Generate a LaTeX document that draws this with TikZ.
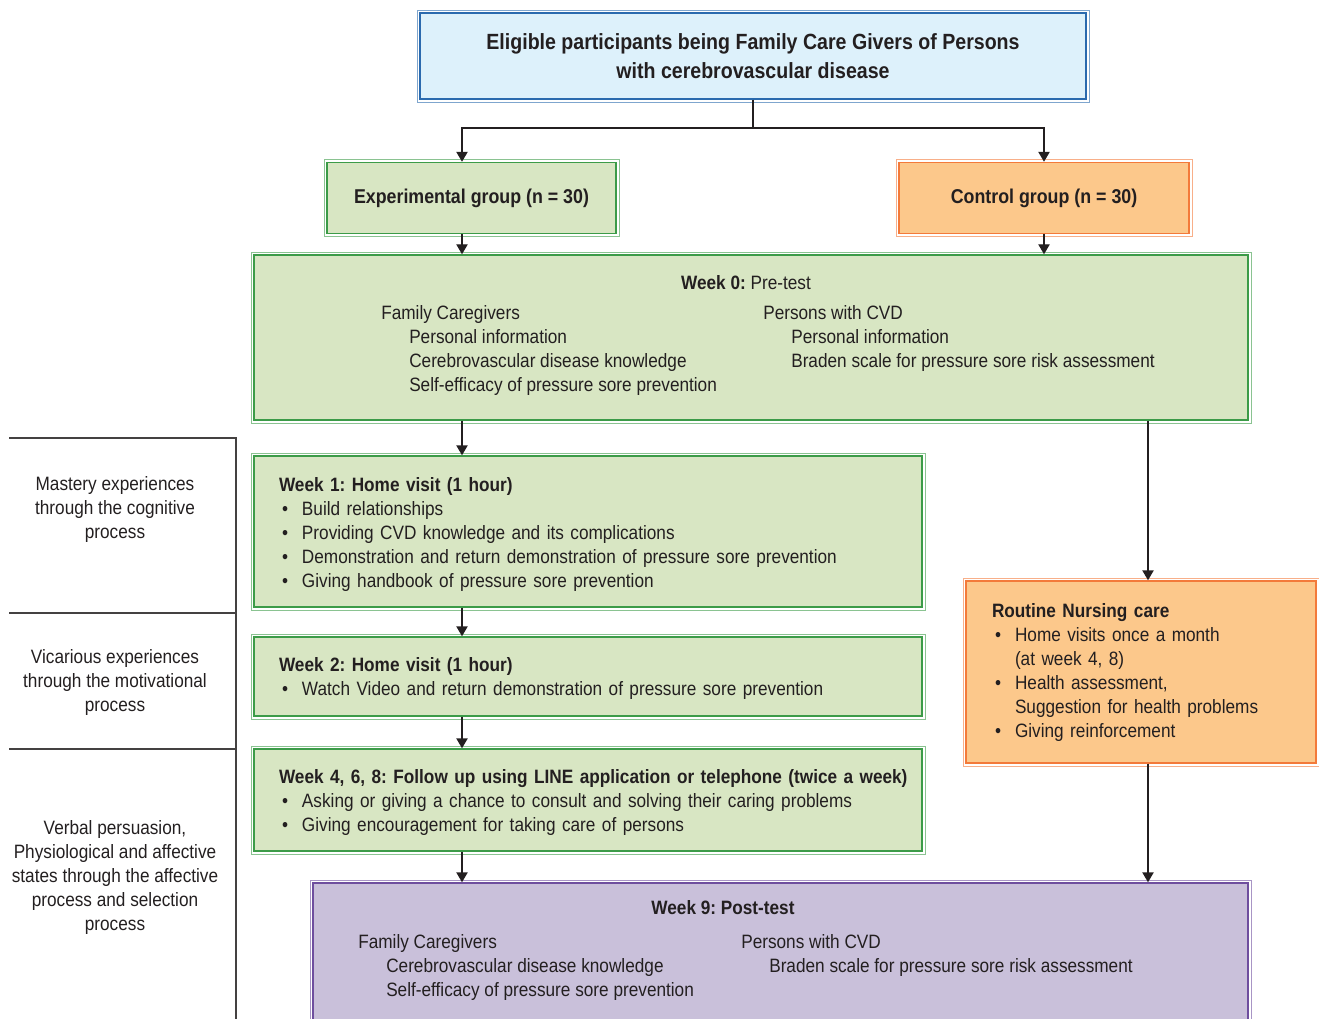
\documentclass[tikz,border=0pt]{standalone}
\usepackage{fontspec}
\setmainfont{Liberation Sans}[FakeStretch=0.89]
\frenchspacing
\usetikzlibrary{arrows.meta}

\definecolor{inkc}{HTML}{231F20}
\definecolor{fillblue}{HTML}{DDF1FB}
\definecolor{lineblue}{HTML}{2A6AAE}
\definecolor{fillgreen}{HTML}{D8E6C3}
\definecolor{linegreen}{HTML}{3C9B48}
\definecolor{fillorange}{HTML}{FCC88B}
\definecolor{lineorange}{HTML}{F37A3A}
\definecolor{fillpurple}{HTML}{C9C0DA}
\definecolor{linepurple}{HTML}{6E4E9E}

\newcommand{\bitem}{\hspace*{2.25pt}\makebox[15pt][l]{\textbullet}}
\newcommand{\contin}{\hspace*{17.25pt}}
\newcommand{\subin}{\hspace*{21pt}}

\tikzset{
  box/.style={draw=line#1, fill=fill#1, line width=1.1pt, inner sep=0pt, text=inkc},
  head/.style={font=\fontsize{16.5}{21.75}\selectfont\bfseries},
  grp/.style={font=\fontsize{15}{18}\selectfont\bfseries},
  txt/.style={inner sep=0pt, text=inkc, font=\fontsize{14.5}{18}\selectfont},
  arr/.style={-{Triangle[length=7.5pt,width=8.5pt]}, line width=1.1pt, draw=inkc},
  panel/.style={line width=1.1pt, draw=inkc!85}
}

\begin{document}
\begin{tikzpicture}[x=0.75pt, y=-0.75pt]
    \useasboundingbox (0,0) rectangle (1319,1019);
    \clip (0,0) rectangle (1319,1019);

    % boxes
    \node[box=blue, head, minimum width=499.5pt, minimum height=64.5pt, align=center]
        (top) at (753,56) {Eligible participants being Family Care Givers of Persons\\with cerebrovascular disease};
    \node[box=green, grp, minimum width=216.75pt, minimum height=53.25pt]
        (exp) at (471.5,198) {Experimental group (n = 30)};
    \node[box=orange, grp, minimum width=217.5pt, minimum height=53.25pt]
        (ctrl) at (1044,198) {Control group (n = 30)};

    \node[box=green, minimum width=745.5pt, minimum height=123.75pt] (w0) at (751,337.5) {};
    \node[txt, anchor=north] (w0t) at (746,275) {\textbf{Week 0:} Pre-test};
    \node[txt, anchor=north west, align=left] (w0fc) at (381,305)
        {Family Caregivers\\\subin Personal information\\\subin Cerebrovascular disease knowledge\\\subin Self-efficacy of pressure sore prevention};
    \node[txt, anchor=north west, align=left] (w0pc) at (763,305)
        {Persons with CVD\\\subin Personal information\\\subin Braden scale for pressure sore risk assessment};

    \node[box=green, txt, minimum width=501pt, minimum height=113.25pt, text width=463.5pt, align=left]
        (w1) at (588,531.5) {\rule{0pt}{15pt}\textbf{Week 1: Home visit (1 hour)}\\
        \bitem Build relationships\\
        \bitem Providing CVD knowledge and its complications\\
        \bitem Demonstration and return demonstration of pressure sore prevention\\
        \bitem Giving handbook of pressure sore prevention};
    \node[box=green, txt, minimum width=501pt, minimum height=59.25pt, text width=463.5pt, align=left]
        (w2) at (588,676.5) {\rule{0pt}{13.5pt}\textbf{Week 2: Home visit (1 hour)}\\
        \bitem Watch Video and return demonstration of pressure sore prevention};
    \node[box=green, txt, minimum width=501pt, minimum height=76.5pt, text width=463.5pt, align=left]
        (w4) at (588,800) {\rule{0pt}{13.5pt}\mbox{\textbf{Week 4, 6, 8: Follow up using LINE application or telephone (twice a week)}}\\
        \bitem Asking or giving a chance to consult and solving their caring problems\\
        \bitem Giving encouragement for taking care of persons};

    \node[box=orange, txt, minimum width=262.5pt, minimum height=136.5pt, text width=223.5pt, align=left]
        (rnc) at (1141,672) {\textbf{Routine Nursing care}\\
        \bitem Home visits once a month\\
        \contin (at week 4, 8)\\
        \bitem Health assessment,\\
        \contin Suggestion for health problems\\
        \bitem Giving reinforcement};

    \node[box=purple, minimum width=701.25pt, minimum height=127.5pt] (w9) at (780.5,968) {};
    \node[txt, anchor=north] (w9t) at (723,900) {\textbf{Week 9: Post-test}};
    \node[txt, anchor=north west, align=left] (w9fc) at (358,934)
        {Family Caregivers\\\subin Cerebrovascular disease knowledge\\\subin Self-efficacy of pressure sore prevention};
    \node[txt, anchor=north west, align=left] (w9pc) at (741,934)
        {Persons with CVD\\\subin Braden scale for pressure sore risk assessment};

    % thin outer frames
    \foreach \nm/\cl in {top/blue, exp/green, ctrl/orange, w0/green, w1/green,
        w2/green, w4/green, rnc/orange, w9/purple}
        \draw[draw=line\cl!60, line width=0.5pt]
            ([shift={(-1.8pt,1.8pt)}]\nm.north west) rectangle ([shift={(1.8pt,-1.8pt)}]\nm.south east);

    % connectors
    \coordinate (lx) at (462,0);
    \coordinate (rx) at (1148,0);
    \coordinate (split) at (753,128);
    \draw[arr] (top.south) -- (split) -| (exp.north -| lx);
    \draw[arr] (split) -| (ctrl.north);
    \draw[arr] (exp.south -| lx) -- (w0.north -| lx);
    \draw[arr] (ctrl.south) -- (ctrl.south |- w0.north);
    \draw[arr] (w0.south -| lx) -- (w1.north -| lx);
    \draw[arr] (w1.south -| lx) -- (w2.north -| lx);
    \draw[arr] (w2.south -| lx) -- (w4.north -| lx);
    \draw[arr] (w4.south -| lx) -- (w9.north -| lx);
    \draw[arr] (w0.south -| rx) -- (rnc.north -| rx);
    \draw[arr] (rnc.south -| rx) -- (w9.north -| rx);

    % self-efficacy sources
    \draw[panel] (9,438) -- (236,438) -- (236,1019);
    \draw[panel] (9,613) -- (236,613);
    \draw[panel] (9,749) -- (236,749);
    \node[txt, align=center] (mast) at (115,509)
        {Mastery experiences\\through the cognitive\\process};
    \node[txt, align=center] (vica) at (115,682)
        {Vicarious experiences\\through the motivational\\process};
    \node[txt, align=center] (verb) at (115,877)
        {Verbal persuasion,\\Physiological and affective\\states through the affective\\process and selection\\process};
\end{tikzpicture}
\end{document}
